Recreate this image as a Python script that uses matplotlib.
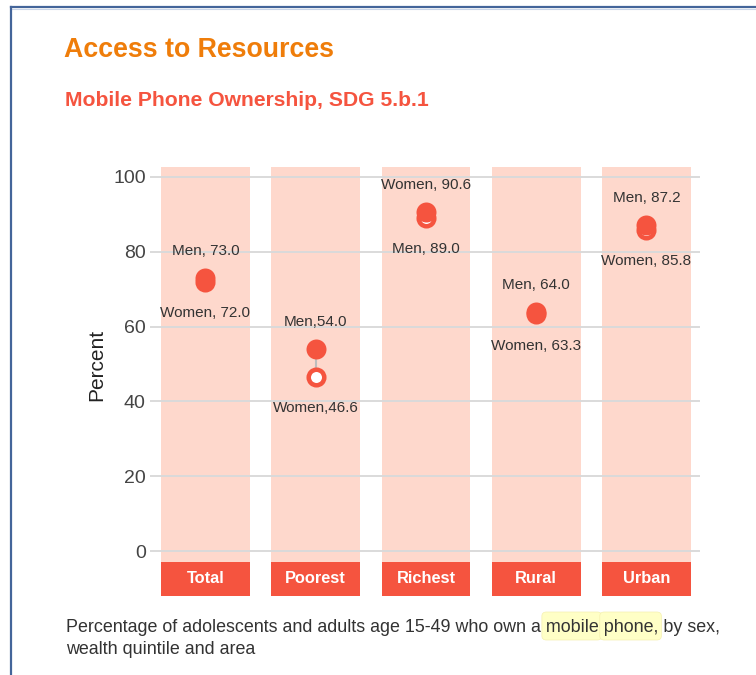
import matplotlib
matplotlib.use("Agg")
import matplotlib.pyplot as plt
from matplotlib.patches import FancyBboxPatch
from matplotlib.lines import Line2D
import numpy as np

categories = ["Total", "Poorest", "Richest", "Rural", "Urban"]
men = [73.0, 54.0, 89.0, 64.0, 87.2]
women = [72.0, 46.6, 90.6, 63.3, 85.8]
men_labels = ["Men, 73.0", "Men,54.0", "Men, 89.0", "Men, 64.0", "Men, 87.2"]
women_labels = ["Women, 72.0", "Women,46.6", "Women, 90.6", "Women, 63.3", "Women, 85.8"]
yticks = [0, 20, 40, 60, 80, 100]

RED = "#f5543f"
LIGHT = "#fed8cc"
ORANGE = "#ef7d0a"
TXT = "#333333"
FONT = "Liberation Sans"

W, H = 756, 675
fig = plt.figure(figsize=(W / 100, H / 100), dpi=100)
fig.patch.set_facecolor("white")

# frame lines (top and left)
fig.add_artist(Line2D([11 / W, 1], [1 - 7 / H, 1 - 7 / H], color="#44659a", lw=1.6))
fig.add_artist(Line2D([11 / W, 1], [1 - 9 / H, 1 - 9 / H], color="#c9d5e8", lw=0.8))
fig.add_artist(Line2D([11 / W, 11 / W], [0, 1 - 7 / H], color="#44659a", lw=1.6))

# titles
fig.text(64 / W, 1 - 50 / H, "Access to Resources", family=FONT,
         weight="bold", size=19.3, color=ORANGE, va="center", ha="left")
fig.text(65 / W, 1 - 100 / H, "Mobile Phone Ownership, SDG 5.b.1", family=FONT,
         weight="bold", size=15.2, color=RED, va="center", ha="left")

# axes
ax = fig.add_axes([150 / W, (H - 596) / H, 550 / W, 429 / H])
ax.set_xlim(-0.503, 4.486)
ax.set_ylim(-12.03, 102.67)
for s in ax.spines.values():
    s.set_visible(False)
ax.set_facecolor("none")

x = np.arange(len(categories))
bw = 0.805
box_top = -2.86
ax.bar(x, 102.67 - box_top, bottom=box_top, width=bw, color=LIGHT, zorder=1)
ax.bar(x, box_top - (-12.03), bottom=-12.03, width=bw, color=RED, zorder=2)
for xi, c in zip(x, categories):
    ax.text(xi, (box_top - 12.03) / 2, c, ha="center", va="center", color="white",
            family=FONT, weight="bold", size=11.8, zorder=3)

for t in yticks:
    ax.plot([-0.503, 4.486], [t, t], color="#dadada", lw=1.4, zorder=2, solid_capstyle="butt")

ax.set_yticks(yticks)
ax.set_xticks([])
ax.tick_params(axis="y", length=0, pad=3, labelsize=14, labelcolor="#444444")
for lab in ax.get_yticklabels():
    lab.set_family(FONT)

fig.text(97 / W, 1 - 365 / H, "Percent", rotation=90, ha="center", va="center",
         family=FONT, size=15, color="#222222")

# dumbbells
for xi, m, w_, ml, wl in zip(x, men, women, men_labels, women_labels):
    hi, lo = max(m, w_), min(m, w_)
    ax.plot([xi, xi], [lo, hi], color="#bdbdbd", lw=1.5, zorder=3)
    # lower value drawn as ring, upper as filled dot on top
    ax.plot([xi], [lo], marker="o", ms=11.2, mfc="white", mec=RED, mew=3.24, zorder=4, ls="none")
    ax.plot([xi], [hi], marker="o", ms=14.4, mfc=RED, mec=RED, mew=0, zorder=5, ls="none")
    hi_lab, lo_lab = (ml, wl) if m >= w_ else (wl, ml)
    ax.annotate(hi_lab, (xi, hi), xytext=(0, 19.5), textcoords="offset points", ha="center",
                va="center", family=FONT, size=11, color=TXT, zorder=6)
    ax.annotate(lo_lab, (xi, lo), xytext=(0, -22.5), textcoords="offset points", ha="center",
                va="center", family=FONT, size=11, color=TXT, zorder=6)

# caption with highlight
cap_kw = dict(family=FONT, size=12.9, color=TXT, va="baseline", ha="left")
line1 = "Percentage of adolescents and adults age 15-49 who own a mobile phone, by sex,"
line2 = "wealth quintile and area"
x0 = 66
base1 = H - 632
base2 = H - 654
fig.text(x0 / W, base1 / H, line1, zorder=5, **cap_kw)
fig.text(x0 / W, base2 / H, line2, zorder=5, **cap_kw)

r = fig.canvas.get_renderer()


def tw(s):
    t = fig.text(0, 0, s, **cap_kw)
    w = t.get_window_extent(r).width
    t.remove()
    return w


pre = "Percentage of adolescents and adults age 15-49 who own a "
e1 = tw(pre + "mobile")
s1 = e1 - tw("mobile")
e2 = tw(pre + "mobile phone,")
s2 = e2 - tw("phone,")
for a, b in [(s1, e1), (s2, e2)]:
    left = x0 + a - 4
    right = x0 + b + 3
    p = FancyBboxPatch((left / W, (H - 640) / H), (right - left) / W, 28 / H,
                       boxstyle="round,pad=0,rounding_size=0.006",
                       transform=fig.transFigure, facecolor="#ffffc6",
                       edgecolor="#f5f0b0", lw=0.5, zorder=1)
    fig.add_artist(p)

fig.savefig("out.png", dpi=100)
